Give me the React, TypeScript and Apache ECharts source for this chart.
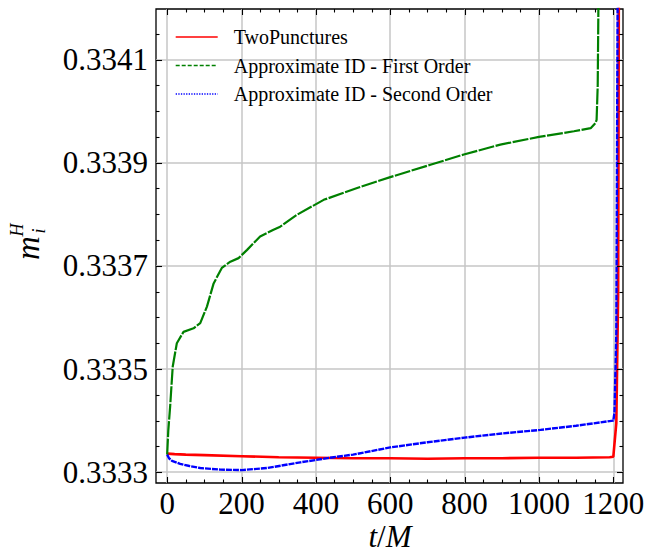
import React, { useEffect, useRef } from "react";
import * as echarts from "echarts";

// ---- data (t/M, m_i^H) ----
const twoPunctures: [number, number][] = [
  [0, 0.333336], [20, 0.333335], [50, 0.333334], [100, 0.333333], [200, 0.333331],
  [300, 0.333329], [400, 0.333328], [500, 0.333327], [600, 0.333327], [700, 0.333326],
  [800, 0.333327], [900, 0.333327], [1000, 0.333328], [1100, 0.333328], [1190, 0.333329],
  [1200, 0.33333], [1208, 0.333395], [1213, 0.333648], [1215, 0.3343],
];
const firstOrder: [number, number][] = [
  [0, 0.333334], [3, 0.33338], [8, 0.333427], [15, 0.333505], [26, 0.33355],
  [44, 0.333572], [71, 0.333579], [89, 0.333589], [107, 0.333621], [125, 0.333666],
  [147, 0.333696], [170, 0.333708], [192, 0.333715], [215, 0.333731], [250, 0.333757],
  [286, 0.33377], [304, 0.333776], [349, 0.333799], [421, 0.333828], [511, 0.333851],
  [600, 0.333872], [708, 0.333896], [798, 0.333916], [896, 0.333935], [1000, 0.33395],
  [1094, 0.333961], [1139, 0.333967], [1152, 0.333977], [1155, 0.333983], [1158, 0.33405],
  [1161, 0.3343],
];
const secondOrder: [number, number][] = [
  [0, 0.333334], [5, 0.333327], [13, 0.333322], [35, 0.333316], [60, 0.333312],
  [89, 0.333308], [143, 0.333305], [200, 0.333304], [268, 0.333308], [358, 0.333319],
  [448, 0.333329], [500, 0.333334], [600, 0.333348], [700, 0.333358], [800, 0.333367],
  [900, 0.333375], [1004, 0.333382], [1100, 0.33339], [1200, 0.3334], [1203, 0.333415],
  [1208, 0.33357], [1212, 0.3343],
];
const seriesNames = ["TwoPunctures", "Approximate ID - First Order", "Approximate ID - Second Order"];
const seriesColors = ["#ff0000", "#008000", "#0000ff"];

const xMajor = [0, 200, 400, 600, 800, 1000, 1200];
const xMinor = [50, 100, 150, 250, 300, 350, 450, 500, 550, 650, 700, 750, 850, 900, 950, 1050, 1100, 1150];
const yMajor = [0.3333, 0.3335, 0.3337, 0.3339, 0.3341];
const yMinor = [0.33335, 0.3334, 0.33345, 0.33355, 0.3336, 0.33365, 0.33375, 0.3338, 0.33385, 0.33395, 0.334, 0.33405, 0.33415];
const xRange = [-30, 1226];
const yRange = [0.333279, 0.334198];

const FONT = "Liberation Serif, DejaVu Serif, serif";

export default function App() {
  const ref = useRef<HTMLDivElement>(null);
  useEffect(() => {
    if (!ref.current) return;
    const chart = echarts.init(ref.current, null, { renderer: "svg" });

    const gridLine = { show: true, lineStyle: { color: "#c6c6c6", width: 1.5 } };

    const lineStyles = [
      { color: seriesColors[0], width: 2.6, type: "solid" },
      { color: seriesColors[1], width: 2.2, type: [16, 1.5] },
      { color: seriesColors[2], width: 2.4, type: [6, 1] },
    ];
    const legendLineStyles = [
      { color: seriesColors[0], width: 1.3, type: "solid" },
      { color: seriesColors[1], width: 1.4, type: [4, 2] },
      { color: seriesColors[2], width: 1.3, type: [1.3, 1.3] },
    ];
    const datasets = [twoPunctures, firstOrder, secondOrder];

    // tick marks drawn inward on all four sides, through the axes' scales
    const xTickSeries = (vals: number[], len: number) => ({
      type: "custom",
      coordinateSystem: "cartesian2d",
      silent: true,
      clip: false,
      z: 10,
      data: vals.map((v) => [v, yRange[0]]),
      renderItem: (params: any, api: any) => {
        const cs = params.coordSys;
        const p = api.coord([api.value(0), api.value(1)]);
        const x = Math.round(p[0]) + 0.5;
        const top = cs.y;
        const bottom = cs.y + cs.height;
        const st = { stroke: "#000", lineWidth: 1.1 };
        return {
          type: "group",
          children: [
            { type: "line", shape: { x1: x, y1: bottom, x2: x, y2: bottom - len }, style: st },
            { type: "line", shape: { x1: x, y1: top, x2: x, y2: top + len }, style: st },
          ],
        };
      },
    });
    const yTickSeries = (vals: number[], len: number) => ({
      type: "custom",
      coordinateSystem: "cartesian2d",
      silent: true,
      clip: false,
      z: 10,
      data: vals.map((v) => [xRange[0], v]),
      renderItem: (params: any, api: any) => {
        const cs = params.coordSys;
        const p = api.coord([api.value(0), api.value(1)]);
        const y = Math.round(p[1]) + 0.5;
        const left = cs.x;
        const right = cs.x + cs.width;
        const st = { stroke: "#000", lineWidth: 1.1 };
        return {
          type: "group",
          children: [
            { type: "line", shape: { x1: left, y1: y, x2: left + len, y2: y }, style: st },
            { type: "line", shape: { x1: right, y1: y, x2: right - len, y2: y }, style: st },
          ],
        };
      },
    });

    chart.setOption({
      animation: false,
      backgroundColor: "#ffffff",
      textStyle: { fontFamily: FONT },
      grid: {
        left: 156, right: 36, top: 9, bottom: 71, containLabel: false, outerBoundsMode: "none",
        show: true, borderColor: "#000", borderWidth: 1.3, backgroundColor: "transparent",
      },
      legend: {
        orient: "vertical",
        left: 175,
        top: 27,
        padding: 0,
        itemWidth: 42,
        itemHeight: 14,
        itemGap: 8.5,
        selectedMode: false,
        data: seriesNames.map((n, i) => ({ name: n, lineStyle: legendLineStyles[i], itemStyle: { opacity: 0 } })),
        textStyle: { fontFamily: FONT, fontSize: 20, color: "#000", padding: [0, 0, 0, 11] },
      },
      xAxis: {
        type: "value",
        min: xRange[0],
        max: xRange[1],
        axisLine: { show: false },
        axisTick: { show: false, customValues: xMajor },
        splitLine: gridLine,
        axisLabel: {
          show: true, customValues: xMajor, margin: 8, color: "#000",
          fontFamily: FONT, fontSize: 31, lineHeight: 24,
          formatter: (v: number) => String(v),
        },
      },
      yAxis: {
        type: "value",
        min: yRange[0],
        max: yRange[1],
        axisLine: { show: false },
        axisTick: { show: false, customValues: yMajor },
        splitLine: gridLine,
        axisLabel: {
          show: true, customValues: yMajor, margin: 8, color: "#000",
          fontFamily: FONT, fontSize: 31,
          formatter: (v: number) => v.toFixed(4),
        },
      },
      graphic: [
        {
          type: "text",
          x: 390,
          y: 536,
          style: {
            text: "{a|t}{b|/}{a|M}",
            textAlign: "center",
            textVerticalAlign: "middle",
            fill: "#000",
            rich: {
              a: { fontFamily: FONT, fontStyle: "italic", fontSize: 31, lineHeight: 26, fill: "#000" },
              b: { fontFamily: FONT, fontSize: 31, lineHeight: 26, fill: "#000" },
            },
          },
        },
        {
          type: "group",
          x: 31,
          y: 260,
          rotation: Math.PI / 2,
          children: [
            { type: "text", x: 0, y: -3, style: { text: "m", fill: "#000", font: `italic 33px ${FONT}`, textAlign: "left", textVerticalAlign: "middle" } },
            { type: "text", x: 30, y: -14, style: { text: "H", fill: "#000", font: `italic 18px ${FONT}`, textAlign: "center", textVerticalAlign: "middle" } },
            { type: "text", x: 29, y: 7.5, style: { text: "i", fill: "#000", font: `italic 18px ${FONT}`, textAlign: "center", textVerticalAlign: "middle" } },
          ],
        },
      ],
      series: [
        ...seriesNames.map((n, i) => ({
          name: n,
          type: "line",
          data: datasets[i],
          symbol: "none",
          showSymbol: false,
          clip: true,
          lineStyle: lineStyles[i],
          z: 2 + i,
        })),
        xTickSeries(xMajor, 6),
        xTickSeries(xMinor, 3.5),
        yTickSeries(yMajor, 6),
        yTickSeries(yMinor, 3.5),
      ],
    });
    return () => chart.dispose();
  }, []);
  return <div ref={ref} style={{ position: "absolute", left: 0, top: 0, width: 659, height: 554 }} />;
}
